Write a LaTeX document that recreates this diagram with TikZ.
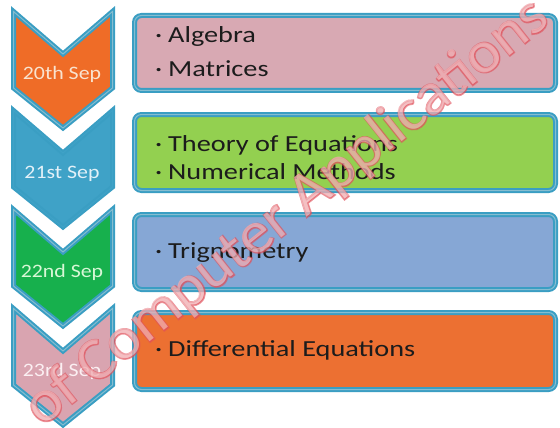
\documentclass[tikz,border=0pt]{standalone}
\usepackage{fontspec}
\setmainfont{Carlito}[FakeStretch=1.23]
\newfontfamily\lblfont{Carlito}[FakeStretch=1.15]
\newfontfamily\wmfont{Carlito}[FakeStretch=1.05]
\newfontfamily\wmfontb{Carlito}[FakeStretch=1.05, FakeBold=3]
\definecolor{bordc}{HTML}{3A9EC3}
\definecolor{inlc}{HTML}{86BDD0}
\definecolor{orch}{HTML}{EF6C27}
\definecolor{bluech}{HTML}{3FA2C7}
\definecolor{greench}{HTML}{17B04D}
\definecolor{pinkch}{HTML}{D9A4B0}
\definecolor{pinkbox}{HTML}{D8A9B3}
\definecolor{greenbox}{HTML}{93D050}
\definecolor{bluebox}{HTML}{86A7D5}
\definecolor{orbox}{HTML}{EC7032}
\definecolor{txtc}{HTML}{1C1C1C}
\definecolor{lbla}{HTML}{F9E3CF}
\definecolor{lblb}{HTML}{E3F1F8}
\definecolor{lblc}{HTML}{D8F7D6}
\definecolor{lbld}{HTML}{FBEFF2}
\definecolor{wmred}{HTML}{E0505A}
\newcommand{\chevpath}[1]{(13.5,#1+2.5) -- (63,#1+45) -- (112.5,#1+2.5) -- (112.5,#1+79) -- (63,#1+119) -- (13.5,#1+79) -- cycle}
\newcommand{\bul}{\makebox[13pt][l]{·}}
\tikzset{
  chevshape/.style={draw=bordc, line width=2pt, double distance=1pt, line join=miter},
  itembox/.style={draw=bordc, line width=2pt, double distance=1pt, double=inlc, rounded corners=7pt, minimum width=421pt, inner sep=0pt},
  itemtext/.style={anchor=base west, inner sep=0pt, text=txtc, font=\fontsize{23}{27}\selectfont},
  chevlabel/.style={anchor=base, inner sep=0pt, font=\lblfont\fontsize{19}{22}\selectfont},
  wmark/.style={rotate=38.5, anchor=base west, inner sep=0pt}
}
\begin{document}
\begin{tikzpicture}[x=1pt,y=-1pt]
\useasboundingbox (0,0) rectangle (560,428);
% chevrons
\draw[chevshape, fill=orch, double=inlc] \chevpath{9};
\draw[chevshape, fill=bluech, double=bluech] \chevpath{108};
\draw[chevshape, fill=greench, double=inlc] \chevpath{207};
\draw[chevshape, fill=pinkch, double=inlc] \chevpath{306};
\node[chevlabel, text=lbla] (c1) at (62,79.5) {20th Sep};
\node[chevlabel, text=lblb] (c2) at (62,178.5) {21st Sep};
\node[chevlabel, text=lblc] (c3) at (62,277.5) {22nd Sep};
\node[chevlabel, text=lbld] (c4) at (62,376.5) {23rd Sep};
% boxes
\node[itembox, fill=pinkbox, minimum height=75pt] (b1) at (345,53) {};
\node[itembox, fill=greenbox, minimum height=76pt] (b2) at (345,152.5) {};
\node[itembox, fill=bluebox, minimum height=75pt] (b3) at (345,252) {};
\node[itembox, fill=orbox, minimum height=77pt] (b4) at (345,351) {};
\node[itemtext] (t1a) at (155,43) {\bul Algebra};
\node[itemtext] (t1b) at (155,77) {\bul Matrices};
\node[itemtext] (t2a) at (155,151) {\bul Theory of Equations};
\node[itemtext] (t2b) at (155,179) {\bul Numerical Methods};
\node[itemtext] (t3a) at (155,258) {\bul Trignometry};
\node[itemtext] (t4a) at (155,356) {\bul Differential Equations};
% watermark: thin red outline, faint white letters
\coordinate (wmstart) at (42,428);
\node[wmark, text=wmred, opacity=0.6, font=\wmfontb\fontsize{60}{70}\selectfont] (wmo) at (wmstart) {of Computer Applications};
\node[wmark, text=white, opacity=0.4, font=\wmfont\fontsize{60}{70}\selectfont] (wmi) at (wmstart) {of Computer Applications};
\end{tikzpicture}
\end{document}
